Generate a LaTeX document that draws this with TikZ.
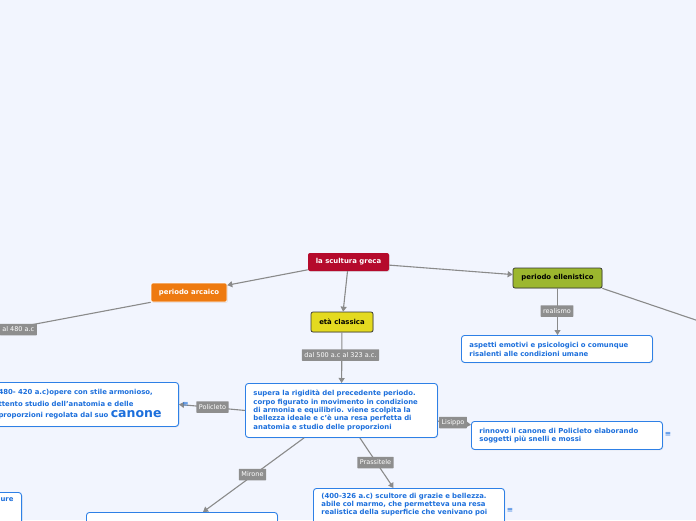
\documentclass[tikz,border=0pt]{standalone}
\usepackage{fontspec}
\setmainfont{DejaVu Sans}
\usetikzlibrary{arrows.meta,shadows}
\definecolor{bg}{HTML}{F2F5FE}
\definecolor{rootred}{HTML}{B50A2C}
\definecolor{arcorange}{HTML}{EE7A10}
\definecolor{claYellow}{HTML}{E4DA20}
\definecolor{elGreen}{HTML}{9CB72E}
\definecolor{cardblue}{HTML}{2E80E6}
\definecolor{textblue}{HTML}{1C6FDC}
\definecolor{lblgray}{HTML}{8E8E8E}
\definecolor{conngray}{HTML}{8A8A8A}
\tikzset{
  topic/.style={rounded corners=2pt, font=\bfseries\fontsize{6.9}{8}\selectfont, inner sep=0pt,
    drop shadow={opacity=0.18, shadow xshift=0.8pt, shadow yshift=-0.8pt}},
  card/.style={draw=cardblue, fill=white, line width=0.9pt, rounded corners=3pt, text=textblue,
    font=\bfseries\fontsize{6.9}{8.4}\selectfont, align=left, inner xsep=8pt, inner ysep=5pt,
    drop shadow={opacity=0.15, shadow xshift=0.8pt, shadow yshift=-0.8pt}},
  lbl/.style={fill=lblgray, text=white, font=\fontsize{6.5}{7}\selectfont, inner xsep=2.5pt,
    minimum height=11.5pt, inner ysep=0pt, rounded corners=0.5pt},
  conn/.style={draw=conngray, line width=1.1pt},
  arr/.style={conn, -{Triangle[width=6pt,length=5pt]}},
  noteicon/.style={text=textblue, font=\fontsize{7.5}{7.5}\selectfont, inner sep=0pt}
}
\begin{document}
\begin{tikzpicture}[x=1pt,y=-1pt]
\fill[bg] (0,0) rectangle (696,520);
\useasboundingbox (0,0) rectangle (696,520);

% topics
\node[topic, fill=rootred, text=white, minimum width=81pt, minimum height=18pt] (root) at (348.5,262) {la scultura greca};
\node[topic, fill=arcorange, text=white, draw=white, line width=0.6pt, minimum width=76pt, minimum height=19pt] (arc) at (189,292.5) {periodo arcaico};
\node[topic, fill=claYellow, text=black, draw=black!80, line width=0.7pt, minimum width=62pt, minimum height=20pt] (cla) at (342,322) {età classica};
\node[topic, fill=elGreen, text=black, draw=black!80, line width=0.7pt, minimum width=89pt, minimum height=20pt] (ell) at (557.5,278) {periodo ellenistico};

% cards
\node[card, anchor=north west, text width=175pt, minimum height=27pt, font=\bfseries\fontsize{6.9}{9}\selectfont] (asp) at (461,335)
  {aspetti emotivi e psicologici o comunque\\risalenti alle condizioni umane};
\node[card, anchor=north west, text width=176pt, minimum height=54pt, font=\bfseries\fontsize{6.9}{8.3}\selectfont] (sup) at (245,383)
  {supera la rigidità del precedente periodo.\\corpo figurato in movimento in condizione\\di armonia e equilibrio. viene scolpita la\\bellezza ideale e c'è una resa perfetta di\\anatomia e studio delle proporzioni};
\node[card, anchor=north west, text width=175pt, minimum height=28pt, font=\bfseries\fontsize{6.9}{8.6}\selectfont] (lis) at (471,421)
  {rinnovo il canone di Policleto elaborando\\soggetti più snelli e mossi};
\node[card, anchor=north east, text width=172pt, minimum height=44pt, font=\bfseries\fontsize{6.9}{11.5}\selectfont] (pol) at (179,382)
  {480- 420 a.c)opere con stile armonioso,\\ttento studio dell'anatomia e delle\\proporzioni regolata dal suo {\fontsize{12.5}{12}\selectfont canone}};
\node[card, anchor=north west, text width=175pt, text depth=30pt, font=\bfseries\fontsize{6.9}{8}\selectfont] (prx) at (313,488)
  {(400-326 a.c) scultore di grazie e bellezza.\\abile col marmo, che permetteva una resa\\realistica della superficie che venivano poi};
\node[card, anchor=north west, minimum width=191pt, minimum height=30pt] (mir) at (86,512) {};
\node[card, anchor=north east, text depth=25pt] (fig) at (22,492) {gure};

% off-canvas ends
\coordinate (offL) at (-60,342);
\coordinate (offR) at (740,335);

% connectors
\draw[arr] (root) -- (arc);
\draw[arr] (root) -- (cla);
\draw[arr] (root) -- (ell);
\draw[conn] (ell.south east) -- (offR);
\draw[conn] (arc.south west) -- (offL);
\draw[arr] (ell.south) -- (ell.south |- asp.north);
\draw[arr] (cla) -- (sup);
\draw[arr] (sup.west) -- (pol.east);
\draw[arr] (sup) -- (lis);
\draw[arr] (sup) -- (mir);
\draw[arr] (sup) -- (prx);

% labels
\node[lbl, anchor=east] (l480) at (37,329.5) {al 480 a.c};
\node[lbl] (lreal) at (557,311) {realismo};
\node[lbl] (l500) at (340.5,355) {dal 500 a.c al 323 a.c.};
\node[lbl] (lpol) at (212.5,407) {Policleto};
\node[lbl] (llis) at (453,422.5) {Lisippo};
\node[lbl] (lmir) at (252.5,474.5) {Mirone};
\node[lbl] (lprx) at (375.5,462.5) {Prassitele};

% note icons
\node[noteicon] (n1) at (185.5,404) {≡};
\node[noteicon] (n2) at (668,434.5) {≡};
\node[noteicon] (n3) at (510,510.5) {≡};
\end{tikzpicture}
\end{document}
